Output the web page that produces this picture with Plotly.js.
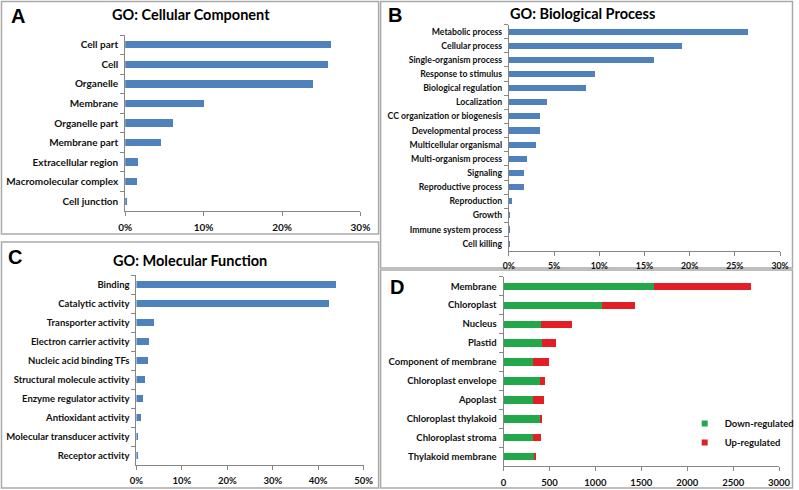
<!DOCTYPE html>
<html>
<head>
<meta charset="utf-8">
<script src="https://cdn.plot.ly/plotly-3.0.1.min.js"></script>
<style>html,body{margin:0;padding:0;background:#fff;}#chart{width:799px;height:490px;}</style>
</head>
<body>
<div id="chart"></div>
<script>
// ---- Data ----
const ccCategories = ['Cell part','Cell','Organelle','Membrane','Organelle part','Membrane part','Extracellular region','Macromolecular complex','Cell junction'];
const ccValues = [26.2, 25.85, 23.95, 10.0, 6.1, 4.6, 1.65, 1.48, 0.2];

const bpCategories = ['Metabolic process','Cellular process','Single-organism process','Response to stimulus','Biological regulation','Localization','CC organization or biogenesis','Developmental process','Multicellular organismal','Multi-organism process','Signaling','Reproductive process','Reproduction','Growth','Immune system process','Cell killing'];
const bpValues = [26.5, 19.1, 16.1, 9.5, 8.5, 4.2, 3.5, 3.4, 3.0, 2.0, 1.7, 1.7, 0.33, 0.18, 0.18, 0.15];

const mfCategories = ['Binding','Catalytic activity','Transporter activity','Electron carrier activity','Nucleic acid binding TFs','Structural molecule activity','Enzyme regulator activity','Antioxidant activity','Molecular transducer activity','Receptor activity'];
const mfValues = [43.9, 42.3, 3.8, 2.85, 2.5, 1.8, 1.5, 0.95, 0.37, 0.37];

const degCategories = ['Membrane','Chloroplast','Nucleus','Plastid','Component of membrane','Chloroplast envelope','Apoplast','Chloroplast thylakoid','Chloroplast stroma','Thylakoid membrane'];
const degDown = [1634, 1075, 404, 415, 317, 396, 317, 400, 324, 337];
const degUp = [1061, 357, 346, 151, 173, 59, 119, 22, 80, 18];

const panelTitles = ['GO: Cellular Component', 'GO: Biological Process', 'GO: Molecular Function'];
const panelLetters = ['A', 'B', 'C', 'D'];
const seriesNames = ['Down-regulated', 'Up-regulated'];

// ---- Styling ----
const W = 799, H = 490;
const px = x => x / W;
const py = y => 1 - y / H;
const FONT = 'Lato, "Liberation Sans", Arial, sans-serif';
const BLUE = '#4F81BD', GREEN = '#22A84A', RED = '#E41E25';
const AXIS = '#868686', BORDER = '#A9A9A9';
const tf = s => ({family: FONT, size: s, color: '#111', weight: 'bold'});

function xAxis(domain, range, dtick, suffix, anchor, fs) {
  return {domain: domain, range: range, dtick: dtick, ticksuffix: suffix, anchor: anchor,
    showgrid: false, zeroline: false, showline: true, linecolor: AXIS, linewidth: 1,
    ticks: 'outside', ticklen: 4, tickcolor: AXIS, tickfont: tf(fs), ticklabelstandoff: 3,
    fixedrange: true};
}
function yAxis(domain, anchor, fs) {
  return {domain: domain, anchor: anchor, type: 'category', autorange: 'reversed',
    showgrid: false, zeroline: false, showline: true, linecolor: AXIS, linewidth: 1,
    ticks: 'outside', ticklen: 4, tickcolor: AXIS, tickson: 'boundaries',
    tickfont: tf(fs), ticklabelstandoff: 4, fixedrange: true};
}

const data = [
  {type: 'bar', orientation: 'h', x: ccValues, y: ccCategories, xaxis: 'x', yaxis: 'y',
   marker: {color: BLUE}, width: 0.37, showlegend: false, hoverinfo: 'x+y'},
  {type: 'bar', orientation: 'h', x: bpValues, y: bpCategories, xaxis: 'x2', yaxis: 'y2',
   marker: {color: BLUE}, width: 0.43, showlegend: false, hoverinfo: 'x+y'},
  {type: 'bar', orientation: 'h', x: mfValues, y: mfCategories, xaxis: 'x3', yaxis: 'y3',
   marker: {color: BLUE}, width: 0.38, showlegend: false, hoverinfo: 'x+y'},
  {type: 'bar', orientation: 'h', x: degDown, y: degCategories, xaxis: 'x4', yaxis: 'y4',
   name: seriesNames[0], marker: {color: GREEN}, width: 0.38, showlegend: false},
  {type: 'bar', orientation: 'h', x: degUp, y: degCategories, xaxis: 'x4', yaxis: 'y4',
   name: seriesNames[1], marker: {color: RED}, width: 0.38, showlegend: false},
  // legend entries
  {type: 'scatter', mode: 'markers', x: [null], y: [null], xaxis: 'x4', yaxis: 'y4',
   name: seriesNames[0], marker: {symbol: 'square', size: 6, color: GREEN}},
  {type: 'scatter', mode: 'markers', x: [null], y: [null], xaxis: 'x4', yaxis: 'y4',
   name: seriesNames[1], marker: {symbol: 'square', size: 6, color: RED}}
];

const border = (x0, y0, x1, y1) => ({type: 'rect', xref: 'paper', yref: 'paper',
  x0: px(x0), x1: px(x1), y0: py(y1), y1: py(y0), line: {color: BORDER, width: 1.5}, fillcolor: 'rgba(0,0,0,0)', layer: 'below'});

const titleAnn = (text, x, y) => ({text: text, xref: 'paper', yref: 'paper', x: px(x), y: py(y),
  xanchor: 'center', yanchor: 'middle', showarrow: false,
  font: {family: FONT, size: 14.5, color: '#000', weight: 'bold'}});
const letterAnn = (text, x, y) => ({text: text, xref: 'paper', yref: 'paper', x: px(x), y: py(y),
  xanchor: 'center', yanchor: 'middle', showarrow: false,
  font: {family: '"Liberation Sans", Arial, sans-serif', size: 20, color: '#000', weight: 'bold'}});

const layout = {
  width: W, height: H, margin: {l: 0, r: 0, t: 0, b: 0},
  paper_bgcolor: '#fff', plot_bgcolor: '#fff',
  barmode: 'stack',
  font: {family: FONT, color: '#000'},
  xaxis: xAxis([px(126), px(362.7)], [0, 30], 10, '%', 'y', 10),
  yaxis: yAxis([py(211), py(35)], 'x', 10),
  xaxis2: xAxis([px(512), px(785)], [0, 30], 5, '%', 'y2', 8.7),
  yaxis2: yAxis([py(250.7), py(24.5)], 'x2', 8.7),
  xaxis3: xAxis([px(137.3), px(366)], [0, 50], 10, '%', 'y3', 9.5),
  yaxis3: yAxis([py(465), py(275)], 'x3', 9.5),
  xaxis4: xAxis([px(506.7), px(784)], [0, 3000], 500, '', 'y4', 9.5),
  yaxis4: yAxis([py(466.3), py(276.7)], 'x4', 9.5),
  showlegend: true,
  legend: {x: px(689), y: py(409), xanchor: 'left', yanchor: 'top', traceorder: 'normal',
    font: {family: FONT, size: 9.5, color: '#111', weight: 'bold'}, bgcolor: 'rgba(0,0,0,0)',
    itemwidth: 30},
  shapes: [
    border(1.5, 1.5, 381, 234),
    border(383, 1.5, 797.5, 268),
    border(1.5, 242, 381, 488),
    border(383, 270, 797.5, 488)
  ],
  annotations: [
    titleAnn(panelTitles[0], 192, 14),
    titleAnn(panelTitles[1], 585.7, 13.3),
    titleAnn(panelTitles[2], 190.7, 260),
    letterAnn(panelLetters[0], 18, 16),
    letterAnn(panelLetters[1], 397.5, 15),
    letterAnn(panelLetters[2], 15, 256.5),
    letterAnn(panelLetters[3], 399.5, 286.5)
  ]
};

Plotly.newPlot('chart', data, layout, {displayModeBar: false, staticPlot: true});
</script>
</body>
</html>
